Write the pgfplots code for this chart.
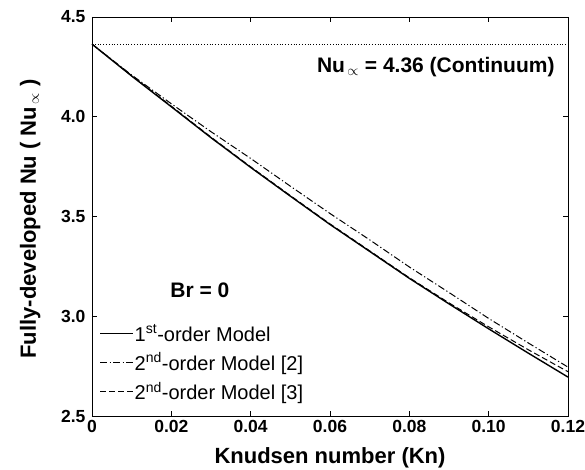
\documentclass[border=0pt]{standalone}
\usepackage{fontspec}
\setmainfont{Liberation Sans}
\usepackage{pgfplots}
\pgfplotsset{compat=1.18}
\pgfplotstableread{
kn    first   secA    secB
0.000 4.364   4.364   4.364
0.010 4.204   4.209   4.206
0.020 4.050   4.065   4.053
0.030 3.895   3.925   3.898
0.040 3.746   3.791   3.749
0.050 3.602   3.652   3.605
0.060 3.460   3.515   3.463
0.070 3.325   3.383   3.328
0.080 3.190   3.247   3.193
0.090 3.062   3.119   3.067
0.100 2.937   2.989   2.947
0.110 2.815   2.866   2.832
0.120 2.695   2.745   2.722
}\datatab
\begin{document}
\begin{tikzpicture}
\begin{axis}[
  scale only axis, width=476pt, height=399pt,
  xmin=0, xmax=0.12, ymin=2.5, ymax=4.5,
  xtick={0,0.02,0.04,0.06,0.08,0.10,0.12},
  xticklabels={0,0.02,0.04,0.06,0.08,0.10,0.12},
  ytick={2.5,3,3.5,4,4.5},
  yticklabels={2.5,3.0,3.5,4.0,4.5},
  tick align=inside, major tick length=5pt,
  tick style={black, line width=0.6pt},
  axis line style={black, line width=0.8pt},
  tick label style={font=\fontsize{17.5}{20}\selectfont\bfseries},
  xticklabel style={yshift=-1pt},
  yticklabel style={xshift=-3pt},
  xlabel={Knudsen number (Kn)},
  ylabel={Fully-developed Nu ( Nu$_{\,\propto}$ )},
  label style={font=\fontsize{22}{26}\selectfont\bfseries},
  xlabel style={at={(axis description cs:0.5,-0.105)}, anchor=center},
  ylabel style={at={(axis description cs:-0.13,0.494)}, anchor=center},
  legend style={draw=none, fill=none, at={(rel axis cs:0.015,0.232)}, anchor=north west,
    font=\fontsize{20}{23}\selectfont, row sep=8pt, inner sep=0pt,
    nodes={inner sep=1pt}},
  legend cell align=left,
  legend image code/.code={\draw[#1] (0pt,0pt) -- (33pt,0pt);},
]
\addplot[black, line width=1.4pt] table[x=kn, y=first] {\datatab};
\addlegendentry{1\textsuperscript{st}-order Model}
\addplot[black, line width=1.0pt, dash pattern=on 7pt off 2.5pt on 1.2pt off 2.5pt] table[x=kn, y=secA] {\datatab};
\addlegendentry{2\textsuperscript{nd}-order Model [2]}
\addplot[black, line width=1.0pt, dash pattern=on 6pt off 3pt] table[x=kn, y=secB] {\datatab};
\addlegendentry{2\textsuperscript{nd}-order Model [3]}
\addplot[black, line width=0.8pt, dotted, forget plot] coordinates {(0,4.364) (0.12,4.364)};
\node[anchor=east, font=\fontsize{21}{25}\selectfont\bfseries] at (axis cs:0.1175,4.25) {Nu$_{\,\propto}$ = 4.36 (Continuum)};
\node[anchor=center, font=\fontsize{21}{25}\selectfont\bfseries] at (axis cs:0.0272,3.13) {Br = 0};
\end{axis}
\pgfresetboundingbox
\useasboundingbox (-92pt,-54pt) rectangle (493pt,416pt);
\end{tikzpicture}
\end{document}
